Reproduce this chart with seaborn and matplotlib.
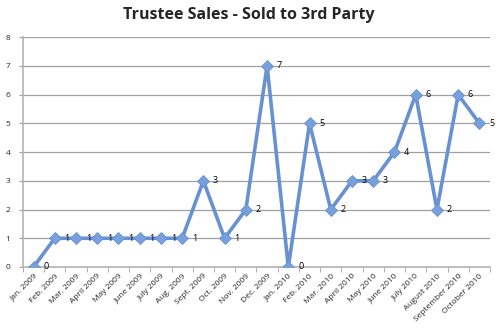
import matplotlib
matplotlib.use("Agg")
import matplotlib.pyplot as plt
import seaborn as sns
import pandas as pd
import numpy as np

months = ["Jan. 2009", "Feb. 2009", "Mar. 2009", "April 2009", "May 2009", "June 2009",
          "July 2009", "Aug. 2009", "Sept. 2009", "Oct. 2009", "Nov. 2009", "Dec. 2009",
          "Jan. 2010", "Feb. 2010", "Mar. 2010", "April 2010", "May 2010", "June 2010",
          "July 2010", "August 2010", "September 2010", "October 2010"]
sales = [0, 1, 1, 1, 1, 1, 1, 1, 3, 1, 2, 7, 0, 5, 2, 3, 3, 4, 6, 2, 6, 5]
y_ticks = [0, 1, 2, 3, 4, 5, 6, 7, 8]
title = "Trustee Sales - Sold to 3rd Party"

sns.set_style("white")
plt.rcParams['font.family'] = ['Open Sans', 'DejaVu Sans']

df = pd.DataFrame({"month": months, "sales": sales, "idx": np.arange(len(months))})

fig = plt.figure(figsize=(4.98, 3.35), dpi=100)
ax = fig.add_axes([0.046, 0.203, 0.938, 0.686])

line_color = "#6891D2"
sns.lineplot(data=df, x="idx", y="sales", ax=ax, color=line_color, linewidth=2.6,
             marker="D", markersize=6.5, markerfacecolor="#77A0DC",
             markeredgecolor="#6891D2", markeredgewidth=0.6, zorder=3)

for i, v in zip(df["idx"], df["sales"]):
    ax.annotate(str(v), (i, v), xytext=(7, 0), textcoords="offset points",
                ha="left", va="center", fontsize=6.5, color="black")

ax.set_xlim(-0.5, len(months) - 0.5)
ax.set_ylim(0, 8)
ax.set_yticks(y_ticks)
ax.set_yticklabels([str(t) for t in y_ticks], fontsize=6)
ax.yaxis.grid(True, color="#A0A0A0", linewidth=0.9)
ax.set_axisbelow(True)

ax.set_xticks(np.arange(len(months)))
ax.set_xticklabels(months, rotation=45, ha="right", rotation_mode="anchor", fontsize=6)
ax.tick_params(axis="x", length=0, pad=4)
ax.set_xticks(np.arange(len(months) + 1) - 0.5, minor=True)
ax.tick_params(axis="x", which="minor", length=3.5, color="#A0A0A0", direction="out", bottom=True)
ax.tick_params(axis="y", length=3, color="#A0A0A0", direction="out", left=True, pad=6)

ax.set_xlabel("")
ax.set_ylabel("")
for s in ["top", "right"]:
    ax.spines[s].set_visible(False)
for s in ["left", "bottom"]:
    ax.spines[s].set_color("#B4B4B4")
    ax.spines[s].set_linewidth(1.2)

fig.text(0.5, 0.955, title, ha="center", va="center", fontsize=11.5, fontweight="bold")

fig.savefig("out.png", dpi=100)
